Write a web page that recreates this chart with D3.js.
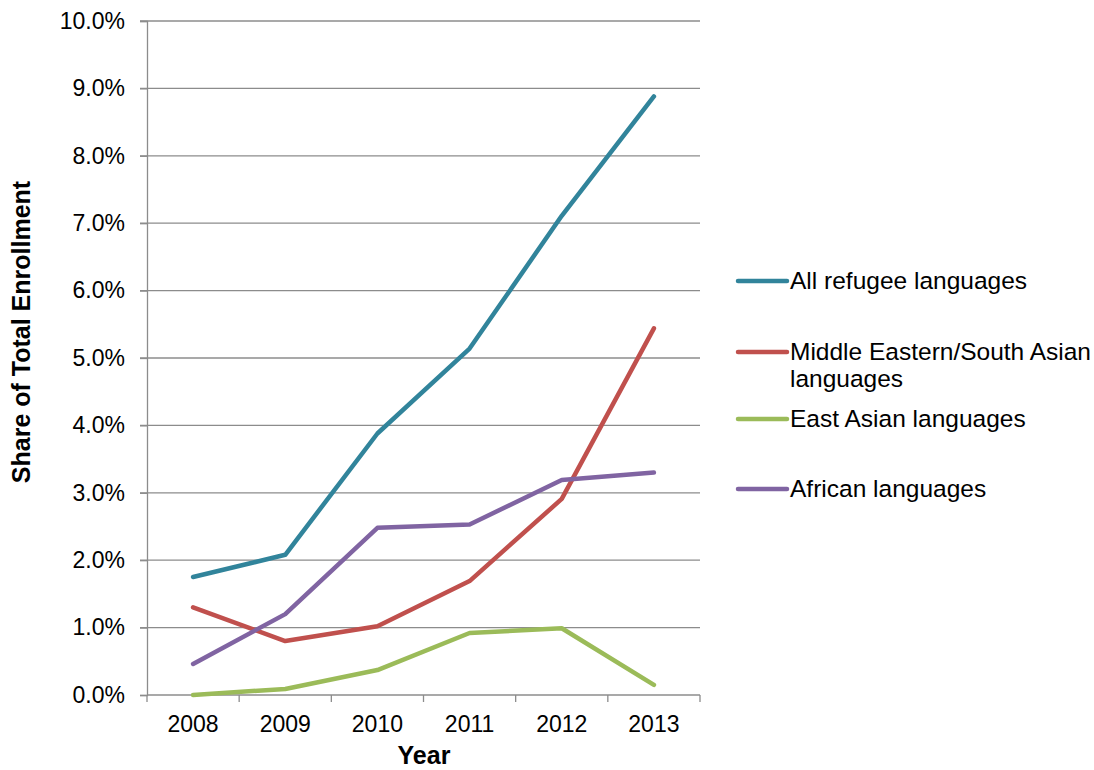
<!DOCTYPE html>
<html>
<head>
<meta charset="utf-8">
<script src="https://cdn.jsdelivr.net/npm/d3@7"></script>
<style>
  html, body { margin: 0; padding: 0; background: #fff; }
  svg { display: block; font-family: "Liberation Sans", Arial, sans-serif; }
</style>
</head>
<body>
<svg id="chart" width="1094" height="770"></svg>
<script>
// Enrollment share by language group, 2008-2013
const years = ["2008", "2009", "2010", "2011", "2012", "2013"];
const allRefugee = [1.75, 2.08, 3.88, 5.14, 7.11, 8.88];
const middleEastSouthAsian = [1.30, 0.80, 1.02, 1.69, 2.91, 5.44];
const eastAsian = [0.00, 0.09, 0.37, 0.92, 0.99, 0.15];
const african = [0.46, 1.20, 2.48, 2.53, 3.19, 3.30];
const yTicks = [0, 1, 2, 3, 4, 5, 6, 7, 8, 9, 10];

const seriesNames = [
  "All refugee languages",
  "Middle Eastern/South Asian languages",
  "East Asian languages",
  "African languages"
];
const seriesValues = [allRefugee, middleEastSouthAsian, eastAsian, african];
const seriesColors = ["#31849B", "#C0504D", "#9BBB59", "#8064A2"];

const svg = d3.select("#chart");
const plotLeft = 147, plotRight = 700, plotTop = 21, plotBottom = 695;
const fontFamily = "Liberation Sans, Arial, sans-serif";

const x = d3.scaleBand().domain(years).range([plotLeft, plotRight]);
const y = d3.scaleLinear().domain([0, 10]).range([plotBottom, plotTop]);

// horizontal gridlines
svg.append("g")
  .selectAll("line")
  .data(yTicks.filter(d => d > 0))
  .join("line")
  .attr("x1", plotLeft - 7).attr("x2", plotRight)
  .attr("y1", d => y(d)).attr("y2", d => y(d))
  .attr("stroke", "#8c8c8c").attr("stroke-width", 1.3);

// y axis
const yAxis = svg.append("g")
  .attr("transform", `translate(${plotLeft},0)`)
  .call(d3.axisLeft(y).tickValues(yTicks).tickFormat(d => d.toFixed(1) + "%").tickSizeOuter(0).tickSize(7).tickPadding(15));
yAxis.attr("font-size", 23).attr("font-family", fontFamily);
yAxis.select(".domain").attr("stroke", "#8c8c8c").attr("stroke-width", 1.3);
yAxis.selectAll(".tick line").attr("stroke", "#8c8c8c").attr("stroke-width", 1.3);
yAxis.selectAll("text").attr("fill", "#000");

// x axis: ticks at category boundaries
const xAxisG = svg.append("g").attr("transform", `translate(0,${plotBottom})`);
const boundaries = years.map(d => x(d)).concat([plotRight]);
xAxisG.append("line")
  .attr("x1", plotLeft).attr("x2", plotRight).attr("y1", 0).attr("y2", 0)
  .attr("stroke", "#8c8c8c").attr("stroke-width", 1.3);
xAxisG.selectAll(".bt").data(boundaries).join("line")
  .attr("class", "bt")
  .attr("x1", d => d).attr("x2", d => d).attr("y1", 0).attr("y2", 7)
  .attr("stroke", "#8c8c8c").attr("stroke-width", 1.3);
xAxisG.selectAll("text").data(years).join("text")
  .attr("x", d => x(d) + x.bandwidth() / 2)
  .attr("y", 37)
  .attr("text-anchor", "middle")
  .attr("font-size", 23)
  .attr("fill", "#000")
  .text(d => d);

// lines
const line = d3.line()
  .x((d, i) => x(years[i]) + x.bandwidth() / 2)
  .y(d => y(d));

svg.append("g")
  .selectAll("path")
  .data(seriesValues)
  .join("path")
  .attr("d", d => line(d))
  .attr("fill", "none")
  .attr("stroke", (d, i) => seriesColors[i])
  .attr("stroke-width", 4.5)
  .attr("stroke-linejoin", "round")
  .attr("stroke-linecap", "round");

// axis titles
svg.append("text")
  .attr("x", 424).attr("y", 764)
  .attr("text-anchor", "middle")
  .attr("font-size", 25).attr("font-weight", "bold")
  .text("Year");

svg.append("text")
  .attr("transform", "translate(30,332) rotate(-90)")
  .attr("text-anchor", "middle")
  .attr("font-size", 25).attr("font-weight", "bold")
  .text("Share of Total Enrollment");

// legend
const legendRows = [
  { lines: ["All refugee languages"], y: 281 },
  { lines: ["Middle Eastern/South Asian", "languages"], y: 352 },
  { lines: ["East Asian languages"], y: 419 },
  { lines: ["African languages"], y: 489 }
];
const legend = svg.append("g");
legendRows.forEach((row, i) => {
  legend.append("line")
    .attr("x1", 738).attr("x2", 787)
    .attr("y1", row.y).attr("y2", row.y)
    .attr("stroke", seriesColors[i])
    .attr("stroke-width", 4.5)
    .attr("stroke-linecap", "round");
  const t = legend.append("text")
    .attr("x", 790).attr("y", row.y + 8)
    .attr("font-size", 24.5).attr("fill", "#000");
  row.lines.forEach((l, j) => {
    t.append("tspan").attr("x", 790).attr("dy", j === 0 ? 0 : 27).text(l);
  });
});
</script>
</body>
</html>
